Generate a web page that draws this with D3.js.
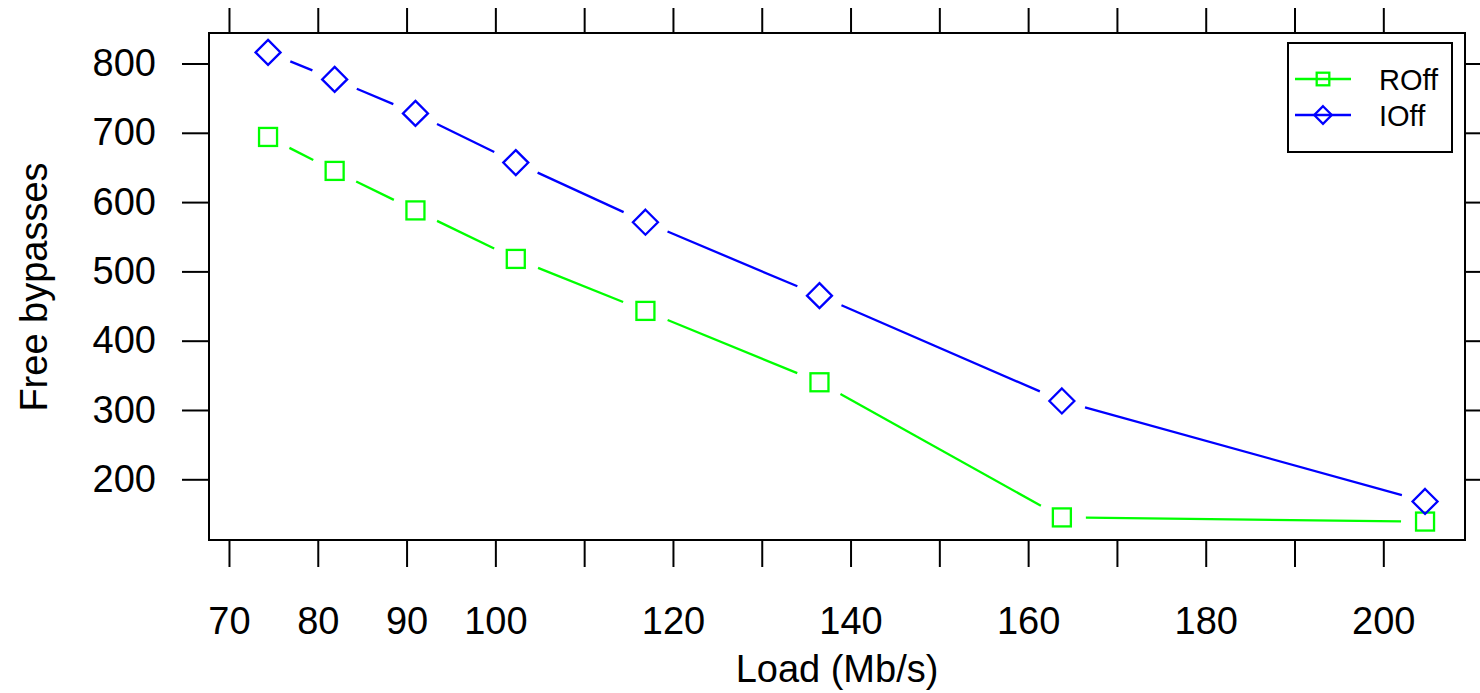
<!DOCTYPE html>
<html><head><meta charset="utf-8">
<script src="https://cdn.jsdelivr.net/npm/d3@7"></script>
<style>
html,body{margin:0;padding:0;background:#fff;}
svg{display:block;font-family:"Liberation Sans",Arial,Helvetica,sans-serif;}
</style></head>
<body>
<svg id="chart" width="1480" height="693"></svg>
<script>
const load = [74.4, 81.9, 91, 102.3, 116.9, 136.5, 163.8, 204.7];
const roff = [694, 645, 588, 518, 443, 340, 145, 139];
const ioff = [816, 777, 728, 657, 571, 465, 313, 168];
const seriesNames = ["ROff", "IOff"];
const seriesColors = ["#00ff00", "#0000ff"];
const xTicks = [70, 80, 90, 100, 110, 120, 130, 140, 150, 160, 170, 180, 190, 200];
const xTickLabels = [70, 80, 90, 100, 120, 140, 160, 180, 200];
const yTicks = [200, 300, 400, 500, 600, 700, 800];

const svg = d3.select("#chart");
const L = 209, R = 1465, T = 33, B = 540;
const x = d3.scaleLinear().domain([67.75, 209.2]).range([L, R]);
const y = d3.scaleLinear().domain([112.4, 844]).range([B, T]);

const fs = 38;
const sw = 2.3;
// axes
const gB = svg.append("g").attr("transform", `translate(0,${B})`)
  .call(d3.axisBottom(x).tickValues(xTicks).tickSize(27).tickPadding(40)
    .tickFormat(d => xTickLabels.includes(d) ? d : ""));
const gT = svg.append("g").attr("transform", `translate(0,${T})`)
  .call(d3.axisTop(x).tickValues(xTicks).tickSize(25).tickFormat(""));
const gL = svg.append("g").attr("transform", `translate(${L},0)`)
  .call(d3.axisLeft(y).tickValues(yTicks).tickSize(27).tickPadding(26));
const gR = svg.append("g").attr("transform", `translate(${R},0)`)
  .call(d3.axisRight(y).tickValues(yTicks).tickSize(27).tickFormat(""));
[gB, gT, gL, gR].forEach(g => {
  g.select(".domain").remove();
  g.selectAll(".tick line").attr("stroke", "#000").attr("stroke-width", 2);
  g.selectAll(".tick text").attr("font-size", fs).attr("fill", "#000")
    .attr("font-family", "Liberation Sans, Arial, Helvetica, sans-serif");
});

svg.append("rect").attr("x", L).attr("y", T).attr("width", R - L).attr("height", B - T)
  .attr("fill", "none").attr("stroke", "#000").attr("stroke-width", 2);

// titles
svg.append("text").attr("x", (L + R) / 2).attr("y", 682).attr("text-anchor", "middle")
  .attr("font-size", fs).text("Load (Mb/s)");
svg.append("text").attr("transform", "translate(47,287) rotate(-90)").attr("text-anchor", "middle")
  .attr("font-size", fs).text("Free bypasses");

// series
const gap = 24;
const sqSize = 18, diaHalf = 12.5;
function drawSeries(vals, color, shape) {
  const pts = load.map((d, i) => [x(d), y(vals[i])]);
  const g = svg.append("g");
  for (let i = 0; i < pts.length - 1; i++) {
    const [x0, y0] = pts[i], [x1, y1] = pts[i + 1];
    const dx = x1 - x0, dy = y1 - y0, len = Math.hypot(dx, dy);
    if (len <= 2 * gap) continue;
    const ux = dx / len, uy = dy / len;
    g.append("line").attr("x1", x0 + ux * gap).attr("y1", y0 + uy * gap)
      .attr("x2", x1 - ux * gap).attr("y2", y1 - uy * gap)
      .attr("stroke", color).attr("stroke-width", sw);
  }
  pts.forEach(([px, py]) => drawMarker(g, px, py, color, shape, 1));
}
function drawMarker(g, px, py, color, shape, s) {
  if (shape === "square") {
    g.append("rect").attr("x", px - sqSize * s / 2).attr("y", py - sqSize * s / 2)
      .attr("width", sqSize * s).attr("height", sqSize * s)
      .attr("fill", "none").attr("stroke", color).attr("stroke-width", sw);
  } else {
    const h = diaHalf * s;
    g.append("path").attr("d", `M${px},${py - h}L${px + h},${py}L${px},${py + h}L${px - h},${py}Z`)
      .attr("fill", "none").attr("stroke", color).attr("stroke-width", sw);
  }
}
drawSeries(roff, seriesColors[0], "square");
drawSeries(ioff, seriesColors[1], "diamond");

// legend
const lg = svg.append("g");
lg.append("rect").attr("x", 1288).attr("y", 43).attr("width", 164).attr("height", 109)
  .attr("fill", "#fff").attr("stroke", "#000").attr("stroke-width", 2);
const shapes = ["square", "diamond"];
seriesNames.forEach((n, i) => {
  const ly = 79 + i * 36;
  lg.append("line").attr("x1", 1295).attr("x2", 1351).attr("y1", ly).attr("y2", ly)
    .attr("stroke", seriesColors[i]).attr("stroke-width", sw);
  drawMarker(lg, 1323, ly, seriesColors[i], shapes[i], 0.7);
  lg.append("text").attr("x", 1379).attr("y", ly + 11).attr("font-size", 29).text(n);
});
</script>
</body></html>
